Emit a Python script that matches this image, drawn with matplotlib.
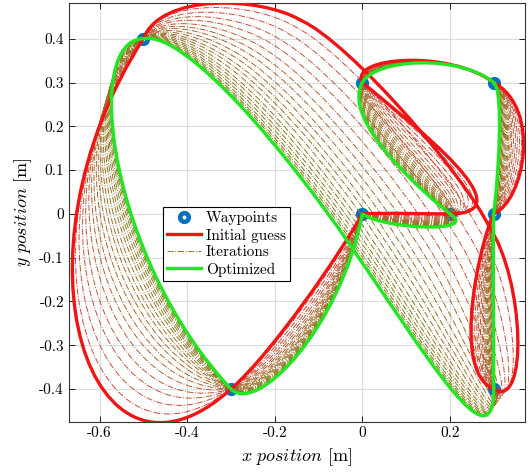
import numpy as np
import matplotlib
matplotlib.use('Agg')
import matplotlib.pyplot as plt
from matplotlib.path import Path
from matplotlib.patches import PathPatch
from matplotlib.lines import Line2D

plt.rcParams['font.family'] = 'serif'
plt.rcParams['font.serif'] = ['cmr10']
plt.rcParams['mathtext.fontset'] = 'cm'
plt.rcParams['axes.unicode_minus'] = False

# waypoints [m]
wp_x = [0, 0.2, 0, 0.3, 0.3, 0.3, -0.5, -0.3]
wp_y = [0, 0, 0.3, 0.3, 0, -0.4, 0.4, -0.4]

# trajectories as cubic bezier control points: start point, then 3 points per piece
init_x = [0.0,
          0.07, 0.13, 0.2,
          0.38, 0.12, 0.0,
          -0.03, 0.2, 0.3,
          0.41, 0.37, 0.3,
          0.27, 0.2, 0.3,
          0.38, 0.37, 0.29,
          0.235, -0.025, -0.142,
          -0.233, -0.46, -0.5,
          -0.82, -0.62, -0.3,
          -0.204, -0.05, 0.0]
init_y = [0.0,
          0.003, 0.0, 0.0,
          0.0, 0.2, 0.3,
          0.36, 0.375, 0.3,
          0.24, 0.03, 0.0,
          -0.06, -0.36, -0.4,
          -0.45, -0.15, -0.03,
          0.085, 0.39, 0.443,
          0.496, 0.505, 0.4,
          -0.1, -0.69, -0.4,
          -0.316, -0.09, 0.0]

opt_x = [0.0,
         0.05, 0.27, 0.2,
         0.15, -0.05, 0.0,
         0.03, 0.22, 0.3,
         0.324, 0.31, 0.3,
         0.298, 0.3, 0.3,
         0.3, 0.15, -0.03,
         -0.095, -0.1875, -0.276,
         -0.365, -0.45, -0.5,
         -0.64, -0.58, -0.3,
         -0.24, -0.05, 0.0]
opt_y = [0.0,
         -0.035, -0.045, 0.0,
         0.04, 0.21, 0.3,
         0.355, 0.365, 0.3,
         0.28, 0.08, 0.0,
         -0.12, -0.28, -0.4,
         -0.58, -0.33, -0.068,
         0.0265, 0.1485, 0.2444,
         0.340, 0.41, 0.4,
         0.40, -0.1, -0.4,
         -0.46, -0.26, 0.0]

# progress of the intermediate iterations (0 = initial guess, 1 = optimized)
iter_w = [0.08, 0.17, 0.26, 0.34, 0.42, 0.49, 0.55, 0.61, 0.66, 0.71,
          0.75, 0.79, 0.83, 0.86, 0.89, 0.915, 0.94, 0.96, 0.975, 0.99]

x_ticks = [-0.6, -0.4, -0.2, 0, 0.2]
x_tick_labels = ['-0.6', '-0.4', '-0.2', '0', '0.2']
y_ticks = [-0.4, -0.3, -0.2, -0.1, 0, 0.1, 0.2, 0.3, 0.4]
y_tick_labels = ['-0.4', '-0.3', '-0.2', '-0.1', '0', '0.1', '0.2', '0.3', '0.4']

red = '#f01414'
green = '#22e622'
blue = '#0072bd'


def bezier_path(xs, ys):
    verts = np.column_stack([xs, ys])
    codes = [Path.MOVETO] + [Path.CURVE4] * (len(xs) - 1)
    return Path(verts, codes)


fig = plt.figure(figsize=(5.3, 4.74), dpi=100)
ax = fig.add_axes([0.130, 0.110, 0.861, 0.884])

ax.plot(wp_x, wp_y, 'o', color=blue, mfc='white', ms=6.2, mew=3.3, zorder=2)

ix = np.array(init_x)
iy = np.array(init_y)
ox = np.array(opt_x)
oy = np.array(opt_y)
c0 = np.array([0.84, 0.25, 0.25])
c1 = np.array([0.52, 0.50, 0.12])
for w in iter_w:
    col = (1 - w) * c0 + w * c1
    p = bezier_path((1 - w) * ix + w * ox, (1 - w) * iy + w * oy)
    ax.add_patch(PathPatch(p, fill=False, ec=col, lw=0.7, ls='-.', zorder=3))

ax.add_patch(PathPatch(bezier_path(ix, iy), fill=False, ec=red, lw=2.4, zorder=4))
ax.add_patch(PathPatch(bezier_path(ox, oy), fill=False, ec=green, lw=2.4, zorder=5))

ax.set_xlim(-0.67, 0.372)
ax.set_ylim(-0.475, 0.482)
ax.set_xticks(x_ticks)
ax.set_xticklabels(x_tick_labels)
ax.set_yticks(y_ticks)
ax.set_yticklabels(y_tick_labels)
ax.tick_params(direction='in', top=True, right=True, labelsize=11, length=4, width=0.6)
ax.grid(True, color='#dddddd', lw=0.8)
ax.set_axisbelow(True)
for s in ax.spines.values():
    s.set_linewidth(0.8)
    s.set_color('#333333')

ax.set_xlabel(r'$x\ position$ [m]', fontsize=13)
ax.set_ylabel(r'$y\ position$ [m]', fontsize=13)

handles = [
    Line2D([], [], ls='none', marker='o', color=blue, mfc='white', ms=6.2, mew=3.3),
    Line2D([], [], color=red, lw=2.4),
    Line2D([], [], color=(0.6, 0.45, 0.15), lw=0.7, ls='-.'),
    Line2D([], [], color=green, lw=2.4),
]
labels = ['Waypoints', 'Initial guess', 'Iterations', 'Optimized']
leg = ax.legend(handles, labels, loc='upper left', bbox_to_anchor=(0.206, 0.513),
                fontsize=11, handlelength=2.2, fancybox=False, framealpha=1,
                edgecolor='black', borderpad=0.3, labelspacing=0.2, handletextpad=0.3,
                borderaxespad=0)
leg.get_frame().set_linewidth(0.8)
leg.set_zorder(10)

fig.savefig('out.png', dpi=100)
